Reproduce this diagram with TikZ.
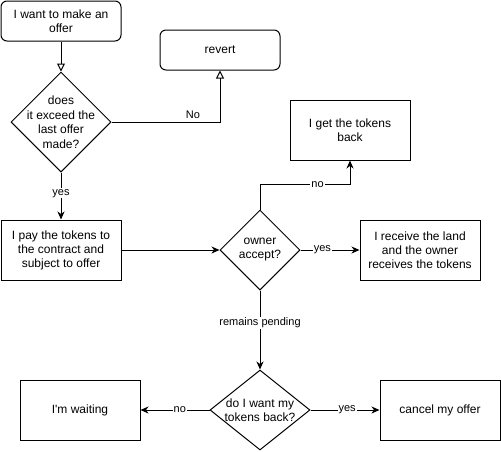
\documentclass[tikz,border=0pt]{standalone}
\usepackage{fontspec}
\setmainfont{Liberation Sans}
\usetikzlibrary{shapes.geometric,arrows.meta,calc}
\begin{document}
\begin{tikzpicture}[x=1pt,y=-1pt,
  every node/.style={font=\fontsize{12}{14}\selectfont},
  box/.style={draw,line width=1pt,minimum width=120pt,minimum height=60pt,align=center,inner sep=0pt},
  rbox/.style={box,minimum height=40pt,rounded corners=6pt},
  dia/.style={draw,shape=diamond,line width=1pt,inner sep=0pt},
  conn/.style={line width=1pt},
  arr/.style={conn,-{Stealth[length=8pt,width=7pt,inset=2.5pt]}},
  oarr/.style={conn,-{Triangle[open,length=8pt,width=8pt]}},
  lbl/.style={fill=white,inner sep=1pt,font=\fontsize{11}{13}\selectfont}
]
\useasboundingbox (0,0) rectangle (501,451);
\node[rbox] (start) at (61,21) {I want to make an\\offer};
\node[dia,minimum width=100pt,minimum height=100pt,
  label={[align=center,font=\fontsize{12}{14.5}\selectfont]center:does\\it exceed the\\last offer\\made?}] (d1) at (61,122) {};
\node[rbox] (revert) at (220,50) {revert};
\node[box] (pay) at (61,250) {I pay the tokens to\\the contract and\\subject to offer};
\node[dia,minimum width=80pt,minimum height=80pt,
  label={[align=center]center:owner\\accept?}] (owner) at (260,250) {};
\node[box] (back) at (350,130) {I get the tokens\\back};
\node[box] (land) at (420,250) {I receive the land\\and the owner\\receives the tokens};
\node[dia,minimum width=100pt,minimum height=80pt,
  label={[align=center]center:do I want my\\tokens back?}] (d3) at (260,410) {};
\node[box] (wait) at (80,410) {I\textquotesingle m waiting};
\node[box] (cancel) at (440,410) {cancel my offer};
\coordinate (nc) at ($(owner.north)+(0,-25)$);

\draw[oarr] (start.south) -- (d1.north);
\draw[oarr] (d1.east) -| node[above,pos=0.375,font=\fontsize{11}{13}\selectfont]{No} (revert.south);
\draw[arr] (d1.south) -- node[lbl,pos=0.44]{yes} (pay.north);
\draw[arr] (pay.east) -- (owner.west);
\draw[arr] (owner.north) -- (nc) -| node[lbl,pos=0.32]{no} (back.south);
\draw[arr] (owner.east) -- node[lbl,pos=0.37]{yes} (land.west);
\draw[arr] (owner.south) -- node[lbl,pos=0.41]{remains pending} (d3.north);
\draw[arr] (d3.west) -- node[lbl,pos=0.43]{no} (wait.east);
\draw[arr] (d3.east) -- node[lbl,pos=0.53]{yes} (cancel.west);
\end{tikzpicture}
\end{document}
